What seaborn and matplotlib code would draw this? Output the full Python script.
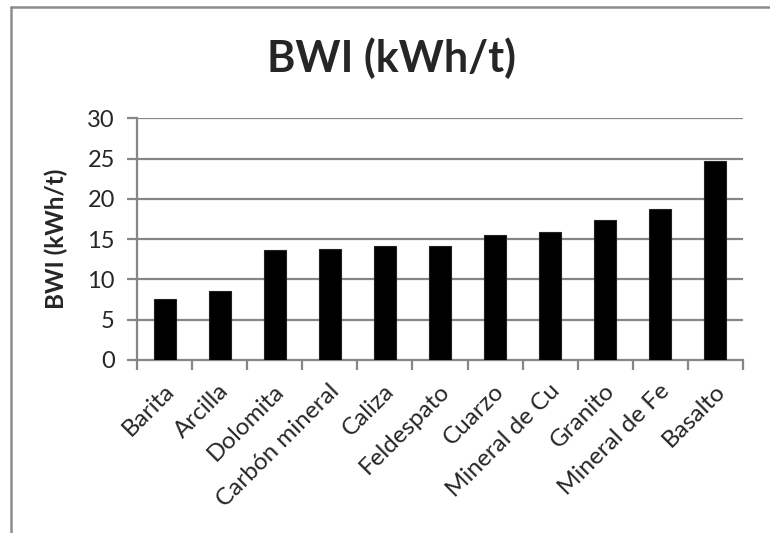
import matplotlib
matplotlib.use("Agg")
import matplotlib.pyplot as plt
import matplotlib.transforms as mtransforms
import seaborn as sns
import pandas as pd
from matplotlib.lines import Line2D

categories = ["Barita", "Arcilla", "Dolomita", "Carbón mineral", "Caliza", "Feldespato",
              "Cuarzo", "Mineral de Cu", "Granito", "Mineral de Fe", "Basalto"]
values = [7.6, 8.6, 13.7, 13.8, 14.1, 14.2, 15.5, 15.9, 17.4, 18.7, 24.7]
y_ticks = [0, 5, 10, 15, 20, 25, 30]
title = "BWI (kWh/t)"
y_label = "BWI (kWh/t)"

sns.set_style("white")
plt.rcParams["font.family"] = ["Lato", "DejaVu Sans"]

W, H = 770, 533
fig = plt.figure(figsize=(7.7, 5.33), dpi=100)
ax = fig.add_axes([137 / W, 1 - 360 / H, (743 - 137) / W, (360 - 118.3) / H])

df = pd.DataFrame({"cat": categories, "val": values})
sns.barplot(data=df, x="cat", y="val", color="black", width=0.4, ax=ax,
            saturation=1, edgecolor="#222222", linewidth=0.8, zorder=3)

grid_c = "#868686"
ax.set_ylim(0, 30)
ax.set_xlim(-0.5, len(categories) - 0.5)
ax.set_yticks(y_ticks)
ax.set_yticklabels([str(t) for t in y_ticks], fontsize=17)
for t in y_ticks[1:]:
    ax.axhline(t, color=grid_c, lw=1.6, zorder=1)

for s in ["top", "right"]:
    ax.spines[s].set_visible(False)
for s in ["left", "bottom"]:
    ax.spines[s].set_color(grid_c)
    ax.spines[s].set_linewidth(1.6)

ax.tick_params(axis="y", length=7, width=1.6, color=grid_c, pad=9, left=True)
ax.set_xticks(range(len(categories)))
ax.set_xticklabels(categories, rotation=45, ha="right", va="center",
                   rotation_mode="anchor", fontsize=17.5)
ax.tick_params(axis="x", which="major", length=0, pad=20)
shift = mtransforms.ScaledTranslation(6 / 100, 0, fig.dpi_scale_trans)
for lab in ax.get_xticklabels():
    lab.set_transform(lab.get_transform() + shift)
ax.set_xticks([i - 0.5 for i in range(len(categories) + 1)], minor=True)
ax.tick_params(axis="x", which="minor", length=7, width=1.6, color=grid_c, bottom=True)

ax.set_xlabel("")
ax.set_ylabel(y_label, fontsize=17.5, fontweight="bold")
ax.yaxis.set_label_coords((68 - 137) / (743 - 137), 0.5)

fig.text(392 / W, 1 - 58.5 / H, title, ha="center", va="center",
         fontsize=31, fontweight="bold")

# outer chart frame (left and top edges visible)
fig.add_artist(Line2D([11 / W, 11 / W], [0, 1 - 7 / H], transform=fig.transFigure,
                      color="#8c8c8c", lw=1.8))
fig.add_artist(Line2D([11 / W, 1], [1 - 7 / H, 1 - 7 / H], transform=fig.transFigure,
                      color="#8c8c8c", lw=1.8))

fig.savefig("out.png", dpi=100)
